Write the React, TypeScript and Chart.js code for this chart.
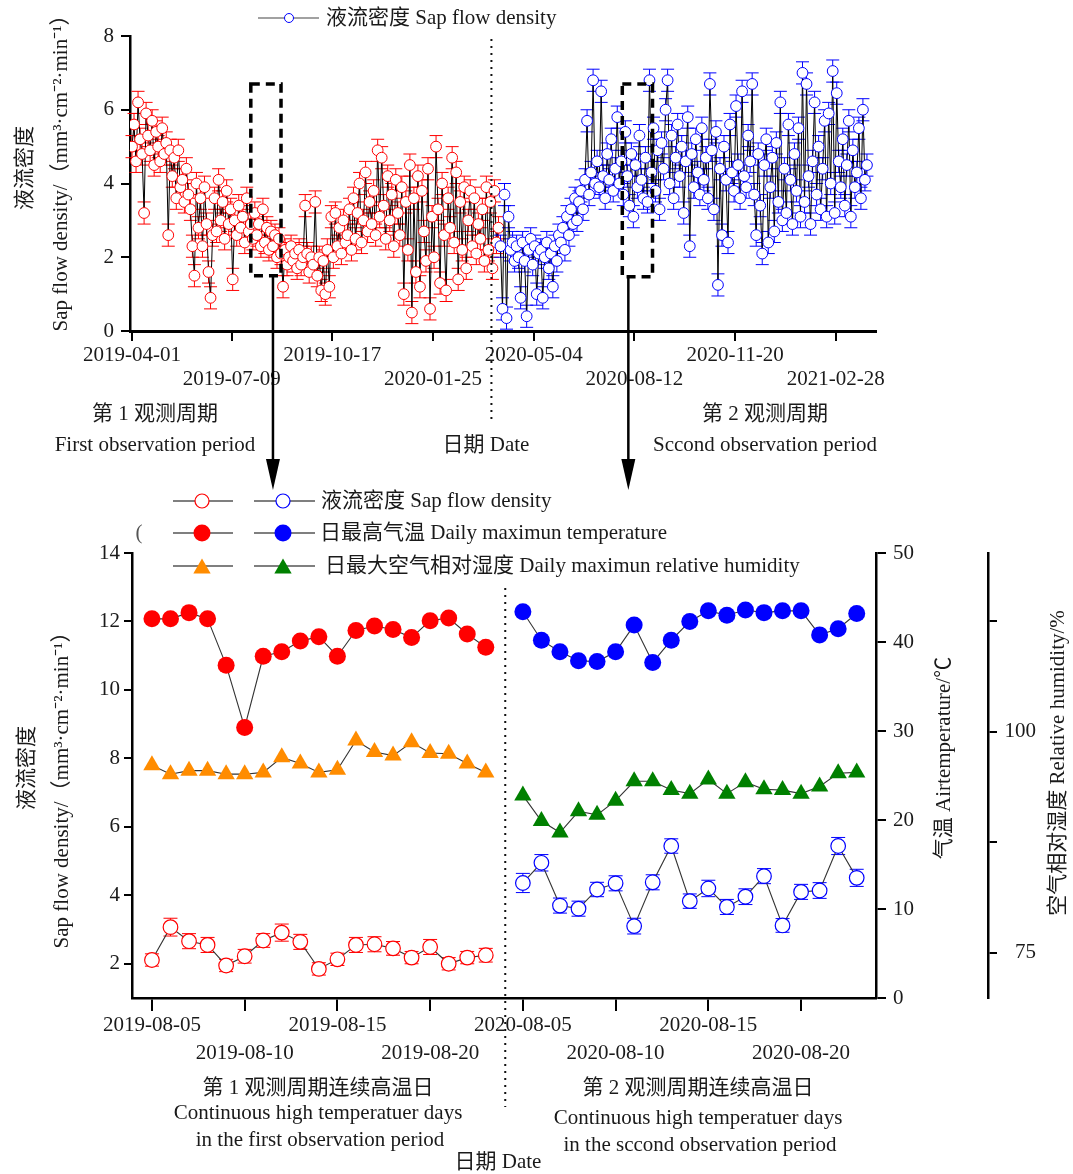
import React, { useEffect, useRef } from 'react';
import { Chart, registerables } from 'chart.js';

Chart.register(...registerables);

const W = 1073;
const H = 1174;
const FONT = '"Liberation Serif", "Times New Roman", "Noto Sans CJK SC", serif';
const INK = '#1a1a1a';
const RED = '#ff0000';
const BLUE = '#0000ff';
const ORANGE = '#ff8c00';
const GREEN = '#008000';

// ---------------- Top chart data (day 0 = 2019-04-01) ----------------
const topTickDays = [0, 99, 199, 299, 399, 499, 599, 699];
const topTickLabels = ['2019-04-01', '2019-07-09', '2019-10-17', '2020-01-25', '2020-05-04', '2020-08-12', '2020-11-20', '2021-02-28'];
const sampleStepDays = 2;
const period1StartDay = 0;
const period2StartDay = 366;
const periodDividerDay = 357;

const period1Sap = [
  5.0, 5.6, 4.6, 6.2, 5.2, 4.8, 3.2, 5.9, 5.3, 4.9,
  5.7, 4.5, 5.4, 5.0, 4.6, 5.5, 4.8, 5.1, 2.6, 4.9,
  4.2, 4.7, 3.6, 4.9, 3.9, 4.1, 3.5, 4.4, 3.7, 3.3,
  2.3, 1.5, 4.0, 2.8, 3.6, 2.3, 3.9, 2.9, 1.6, 0.9,
  2.6, 3.6, 2.7, 4.1, 3.0, 3.5, 2.5, 3.8, 2.9, 3.3,
  1.4, 3.0, 2.6, 3.4, 2.8, 3.1, 2.4, 3.6, 2.7, 2.9,
  2.5, 3.2, 2.6, 2.9, 2.3, 3.3, 2.4, 2.8, 2.2, 2.7,
  2.3, 2.6, 2.0, 2.5, 2.1, 1.2, 2.2, 1.8, 2.0, 2.3,
  1.9, 2.1, 1.7, 2.2, 1.8, 2.0, 3.4, 2.1, 1.6, 2.0,
  1.8, 3.5, 1.5, 2.0, 1.1, 1.9, 1.0, 2.2, 1.2, 3.1,
  2.0, 3.2, 2.3, 2.8, 2.1, 3.0, 2.4, 2.6, 3.3, 2.2,
  3.6, 2.5, 3.2, 4.0, 2.4, 3.0, 4.3, 2.7, 3.5, 2.9,
  3.8, 2.6, 4.9, 3.1, 4.7, 3.4, 2.5, 4.2, 3.0, 3.7,
  2.3, 4.1, 3.2, 2.6, 3.9, 1.0, 3.5, 2.2, 4.5, 0.5,
  3.6, 1.6, 4.2, 1.2, 3.8, 2.7, 1.9, 4.4, 0.6, 3.1,
  2.0, 5.0, 3.3, 1.3, 4.0, 2.6, 1.1, 3.6, 2.8, 4.7,
  2.4, 4.3, 1.4, 3.5, 2.2, 3.9, 1.7, 3.0, 3.8, 2.3,
  3.6, 2.1, 2.9, 2.5, 3.3, 1.9, 3.9, 2.2, 3.5, 1.7,
  3.8, 2.4, 2.8,
];

const period2Sap = [
  2.3, 0.6, 3.7, 0.35, 3.1, 2.2, 2.4, 1.9, 2.3, 2.0,
  0.9, 2.4, 1.9, 0.4, 2.2, 2.5, 1.8, 2.3, 1.0, 2.1,
  2.2, 0.9, 2.0, 2.4, 1.7, 2.1, 1.2, 2.3, 1.9, 2.6,
  2.4, 2.8, 2.2, 3.1, 2.6, 3.3, 2.9, 3.6, 3.0, 3.5,
  3.8, 3.3, 4.1, 5.7, 3.7, 4.3, 6.8, 4.0, 4.6, 3.9,
  6.5, 4.2, 3.6, 4.8, 4.1, 5.2, 3.8, 4.4, 5.8, 4.0,
  4.6, 3.7, 5.4, 4.2, 3.4, 4.8, 3.1, 4.5, 3.9, 5.3,
  4.1, 3.6, 4.7, 3.5, 6.8, 4.3, 5.5, 3.8, 4.9, 3.3,
  5.1, 4.4, 6.0, 6.8, 4.0, 5.3, 3.6, 4.7, 5.6, 4.2,
  5.0, 3.2, 4.6, 5.8, 2.3, 4.8, 3.9, 5.2, 4.3, 3.7,
  5.5, 4.1, 4.7, 3.6, 6.7, 4.9, 3.3, 5.4, 1.25, 4.4,
  2.6, 5.0, 4.1, 2.4, 5.6, 4.3, 3.8, 6.1, 4.5, 3.6,
  6.5, 4.2, 3.9, 5.3, 4.6, 6.7, 3.7, 2.6, 4.8, 3.4,
  2.1, 4.5, 5.2, 2.4, 3.9, 4.7, 2.7, 5.1, 3.5, 6.2,
  3.0, 4.4, 3.2, 5.6, 4.1, 2.9, 4.8, 3.8, 5.5, 3.1,
  7.0, 3.5, 6.7, 4.2, 2.9, 4.6, 6.2, 3.7, 5.0, 3.3,
  4.4, 5.7, 3.1, 5.9, 4.0, 7.05, 3.2, 6.45, 4.6, 3.9,
  5.2, 3.4, 4.5, 5.7, 3.1, 4.9, 3.9, 4.3, 5.5, 3.6,
  6.0, 4.1, 4.5,
];

const topSapErr = 0.3;

// dashed boxes marking the continuous high-temperature days (days, sap-flow units)
const highTempBoxes = [
  { fromDay: 118, toDay: 148, top: 6.7, bottom: 1.5, arrowDay: 140 },
  { fromDay: 487, toDay: 517, top: 6.7, bottom: 1.47, arrowDay: 493 },
];

// ---------------- Bottom chart data ----------------
const bottomTickPos = [0, 5, 10, 15, 20, 25, 30, 35];
const bottomTickLabels = ['2019-08-05', '2019-08-10', '2019-08-15', '2019-08-20', '2020-08-05', '2020-08-10', '2020-08-15', '2020-08-20'];
const hotDays1Start = 0; // 2019-08-05
const hotDays2Start = 20; // 2020-08-05
const bottomDividerPos = 19.05;

const sap1 = [2.11, 3.07, 2.66, 2.55, 1.95, 2.22, 2.68, 2.91, 2.64, 1.85, 2.13, 2.55, 2.57, 2.45, 2.18, 2.49, 2.00, 2.18, 2.25];
const sap1Err = [0.18, 0.26, 0.22, 0.22, 0.18, 0.2, 0.2, 0.25, 0.22, 0.18, 0.18, 0.22, 0.22, 0.2, 0.18, 0.22, 0.18, 0.18, 0.2];
const temp1 = [42.6, 42.6, 43.3, 42.6, 37.4, 30.4, 38.4, 38.9, 40.1, 40.6, 38.4, 41.3, 41.8, 41.4, 40.5, 42.4, 42.7, 40.9, 39.4];
const rh1 = [96.2, 95.2, 95.6, 95.6, 95.2, 95.2, 95.4, 97.1, 96.4, 95.4, 95.7, 99.0, 97.7, 97.3, 98.8, 97.6, 97.5, 96.4, 95.4];

const sap2 = [4.36, 4.95, 3.70, 3.61, 4.17, 4.35, 3.10, 4.38, 5.44, 3.83, 4.20, 3.66, 3.96, 4.56, 3.12, 4.10, 4.14, 5.44, 4.51];
const sap2Err = [0.28, 0.24, 0.22, 0.22, 0.21, 0.22, 0.23, 0.22, 0.21, 0.21, 0.24, 0.22, 0.23, 0.22, 0.2, 0.22, 0.23, 0.25, 0.25];
const temp2 = [43.4, 40.2, 38.9, 37.9, 37.8, 38.9, 41.9, 37.7, 40.2, 42.3, 43.5, 43.0, 43.6, 43.3, 43.5, 43.5, 40.8, 41.5, 43.2];
const rh2 = [92.8, 89.9, 88.6, 91.0, 90.6, 92.2, 94.4, 94.4, 93.4, 93.0, 94.6, 93.0, 94.3, 93.5, 93.4, 93.0, 93.8, 95.3, 95.4];

const rhTicks = [75, 87.5, 100, 112.5];
const rhLabelled = [75, 100];

// ---------------- helpers ----------------
function drawText(ctx: any, s: string, x: number, y: number, size = 21, align = 'center', rotate = 0, color = INK) {
  ctx.save();
  ctx.font = `${size}px ${FONT}`;
  ctx.fillStyle = color;
  ctx.textAlign = align;
  ctx.textBaseline = 'middle';
  ctx.translate(x, y);
  if (rotate) ctx.rotate(rotate);
  ctx.fillText(s, 0, 0);
  ctx.restore();
}

function dottedV(ctx: any, x: number, y1: number, y2: number) {
  ctx.save();
  ctx.strokeStyle = '#111';
  ctx.lineWidth = 2;
  ctx.setLineDash([2, 5]);
  ctx.beginPath();
  ctx.moveTo(x, y1);
  ctx.lineTo(x, y2);
  ctx.stroke();
  ctx.restore();
}

function triangle(ctx: any, x: number, y: number, r: number) {
  const s = Math.sin((2 * Math.PI) / 3) * r;
  ctx.beginPath();
  ctx.moveTo(x, y - r);
  ctx.lineTo(x + s, y + r / 2);
  ctx.lineTo(x - s, y + r / 2);
  ctx.closePath();
}

const errorBarPlugin = {
  id: 'errorBars',
  beforeDatasetDraw(chart: any, args: any) {
    const ds = chart.data.datasets[args.index];
    if (ds.errors === undefined) return;
    const meta = args.meta;
    const ys = chart.scales[meta.yAxisID];
    const ctx = chart.ctx;
    ctx.save();
    ctx.strokeStyle = ds.errColor;
    ctx.lineWidth = 1;
    meta.data.forEach((pt: any, i: number) => {
      const v = ds.data[i].y;
      const e = Array.isArray(ds.errors) ? ds.errors[i] : ds.errors;
      const x = pt.x;
      const yTop = ys.getPixelForValue(v + e);
      const yBot = ys.getPixelForValue(v - e);
      const c = ds.capHalf;
      ctx.beginPath();
      ctx.moveTo(x, yTop);
      ctx.lineTo(x, yBot);
      ctx.moveTo(x - c, yTop);
      ctx.lineTo(x + c, yTop);
      ctx.moveTo(x - c, yBot);
      ctx.lineTo(x + c, yBot);
      ctx.stroke();
    });
    ctx.restore();
  },
};

const topDecor = {
  id: 'topDecor',
  afterDraw(chart: any) {
    const ctx = chart.ctx;
    const xs = chart.scales.x;
    const ys = chart.scales.y;
    // legend
    ctx.save();
    ctx.strokeStyle = '#444';
    ctx.lineWidth = 1.2;
    ctx.beginPath();
    ctx.moveTo(258, 18);
    ctx.lineTo(319, 18);
    ctx.stroke();
    ctx.fillStyle = '#fff';
    ctx.strokeStyle = BLUE;
    ctx.lineWidth = 1;
    ctx.beginPath();
    ctx.arc(289, 18, 4.5, 0, Math.PI * 2);
    ctx.fill();
    ctx.stroke();
    ctx.restore();
    drawText(ctx, '液流密度 Sap flow density', 326, 18, 21, 'left');
    // y titles
    drawText(ctx, '液流密度', 25, 168, 21, 'center', -Math.PI / 2);
    drawText(ctx, 'Sap flow density/（mm³·cm⁻²·min⁻¹）', 61, 168, 21, 'center', -Math.PI / 2);
    // divider
    dottedV(ctx, xs.getPixelForValue(periodDividerDay), ys.getPixelForValue(8) + 3, 420);
    // captions
    drawText(ctx, '第 1 观测周期', 155, 414);
    drawText(ctx, 'First observation period', 155, 445);
    drawText(ctx, '日期 Date', 486, 445);
    drawText(ctx, '第 2 观测周期', 765, 414);
    drawText(ctx, 'Sccond observation period', 765, 445);
    // boxes + arrows
    highTempBoxes.forEach((b) => {
      const x1 = xs.getPixelForValue(b.fromDay);
      const x2 = xs.getPixelForValue(b.toDay);
      const yT = ys.getPixelForValue(b.top);
      const yB = ys.getPixelForValue(b.bottom);
      const ax = xs.getPixelForValue(b.arrowDay);
      ctx.save();
      ctx.strokeStyle = '#000';
      ctx.lineWidth = 3.5;
      ctx.setLineDash([9, 6]);
      ctx.strokeRect(x1, yT, x2 - x1, yB - yT);
      ctx.setLineDash([]);
      ctx.lineWidth = 2.5;
      ctx.beginPath();
      ctx.moveTo(ax, yB);
      ctx.lineTo(ax, 462);
      ctx.stroke();
      ctx.fillStyle = '#000';
      ctx.beginPath();
      ctx.moveTo(ax - 7, 459);
      ctx.lineTo(ax + 7, 459);
      ctx.lineTo(ax, 490);
      ctx.closePath();
      ctx.fill();
      ctx.restore();
    });
  },
};

const bottomDecor = {
  id: 'bottomDecor',
  afterDraw(chart: any) {
    const ctx = chart.ctx;
    const xs = chart.scales.x;
    // legend
    const rows = [
      { y: 501, kind: 'open', text: '液流密度 Sap flow density', tx: 321 },
      { y: 533, kind: 'filled', text: '日最高气温 Daily maximun temperature', tx: 320 },
      { y: 566, kind: 'tri', text: '日最大空气相对湿度 Daily maximun relative humidity', tx: 325 },
    ];
    rows.forEach((r) => {
      ctx.save();
      ctx.strokeStyle = '#555';
      ctx.lineWidth = 1.4;
      ctx.beginPath();
      ctx.moveTo(173, r.y);
      ctx.lineTo(233, r.y);
      ctx.moveTo(254, r.y);
      ctx.lineTo(315, r.y);
      ctx.stroke();
      const cols = r.kind === 'tri' ? [ORANGE, GREEN] : [RED, BLUE];
      [202, 283].forEach((cx, k) => {
        if (r.kind === 'open') {
          ctx.fillStyle = '#fff';
          ctx.strokeStyle = cols[k];
          ctx.lineWidth = 1.2;
          ctx.beginPath();
          ctx.arc(cx, r.y, 7, 0, Math.PI * 2);
          ctx.fill();
          ctx.stroke();
        } else if (r.kind === 'filled') {
          ctx.fillStyle = cols[k];
          ctx.beginPath();
          ctx.arc(cx, r.y, 8.5, 0, Math.PI * 2);
          ctx.fill();
        } else {
          ctx.fillStyle = cols[k];
          triangle(ctx, cx, r.y + 2.5, 10);
          ctx.fill();
        }
      });
      ctx.restore();
      drawText(ctx, r.text, r.tx, r.y, 21, 'left');
    });
    drawText(ctx, '(', 139, 533, 21, 'center', 0, '#555');
    // axis titles
    drawText(ctx, '液流密度', 27, 768, 21, 'center', -Math.PI / 2);
    drawText(ctx, 'Sap flow density/（mm³·cm⁻²·min⁻¹）', 62, 785, 21, 'center', -Math.PI / 2);
    drawText(ctx, '气温 Airtemperature/℃', 944, 758, 21, 'center', -Math.PI / 2);
    drawText(ctx, '空气相对湿度 Relative humidity/%', 1058, 763, 21, 'center', -Math.PI / 2);
    // divider
    dottedV(ctx, xs.getPixelForValue(bottomDividerPos), 588, 1107);
    // captions
    drawText(ctx, '第 1 观测周期连续高温日', 318, 1088);
    drawText(ctx, 'Continuous high temperatuer days', 318, 1113);
    drawText(ctx, 'in the first observation period', 320, 1140);
    drawText(ctx, '第 2 观测周期连续高温日', 698, 1088);
    drawText(ctx, 'Continuous high temperatuer days', 698, 1118);
    drawText(ctx, 'in the sccond observation period', 700, 1145);
    drawText(ctx, '日期 Date', 498, 1162);
  },
};

const axisGrid = (len: number) => ({
  display: true,
  drawOnChartArea: false,
  drawTicks: true,
  tickLength: len,
  color: '#000',
  lineWidth: 2,
});
const tickFont = { family: FONT, size: 21 };

function topConfig(): any {
  const mk = (vals: number[], start: number) => vals.map((v, i) => ({ x: start + i * sampleStepDays, y: v }));
  const common = {
    borderColor: '#000',
    borderWidth: 1,
    pointStyle: 'circle',
    pointRadius: 5.4,
    pointBackgroundColor: '#fff',
    pointBorderWidth: 1,
    tension: 0,
    fill: false,
    errors: topSapErr,
    capHalf: 6.5,
  };
  return {
    type: 'line',
    data: {
      datasets: [
        { ...common, data: mk(period2Sap, period2StartDay), pointBorderColor: BLUE, errColor: BLUE },
        { ...common, data: mk(period1Sap, period1StartDay), pointBorderColor: RED, errColor: RED },
      ],
    },
    options: {
      responsive: false,
      animation: false,
      devicePixelRatio: 1,
      events: [],
      layout: { padding: { left: 70, right: 197, top: 36, bottom: H - 331 - 60 } },
      plugins: { legend: { display: false }, tooltip: { enabled: false } },
      scales: {
        x: {
          type: 'linear',
          min: -2,
          max: 739,
          afterFit: (s: any) => { s.height = 60; },
          afterBuildTicks: (s: any) => { s.ticks = topTickDays.map((v) => ({ value: v })); },
          ticks: {
            autoSkip: false,
            maxRotation: 0,
            minRotation: 0,
            padding: 2,
            color: INK,
            font: { ...tickFont, lineHeight: 1.15 },
            callback: (value: any) => {
              const i = topTickDays.indexOf(Number(value));
              if (i < 0) return '';
              return i % 2 === 0 ? topTickLabels[i] : ['', topTickLabels[i]];
            },
          },
          grid: axisGrid(10),
          border: { display: true, color: '#000', width: 3 },
        },
        y: {
          min: 0,
          max: 8,
          afterFit: (s: any) => { s.width = 60; },
          ticks: { stepSize: 2, padding: 7, color: INK, font: tickFont },
          grid: axisGrid(9),
          border: { display: true, color: '#000', width: 2.5 },
        },
      },
    },
    plugins: [errorBarPlugin, topDecor],
  };
}

function bottomConfig(): any {
  const mk = (vals: number[], start: number) => vals.map((v, i) => ({ x: start + i, y: v }));
  const line = { borderColor: '#333', borderWidth: 1.1, tension: 0, fill: false };
  const sapStyle = (col: string, errs: number[]) => ({
    ...line,
    yAxisID: 'y',
    pointStyle: 'circle',
    pointRadius: 7.3,
    pointBorderColor: col,
    pointBackgroundColor: '#fff',
    pointBorderWidth: 1.2,
    errors: errs,
    errColor: col,
    capHalf: 7,
  });
  const tempStyle = (col: string) => ({
    ...line,
    yAxisID: 'yT',
    pointStyle: 'circle',
    pointRadius: 8.5,
    pointBorderColor: col,
    pointBackgroundColor: col,
    pointBorderWidth: 0,
  });
  const rhStyle = (col: string) => ({
    ...line,
    yAxisID: 'yH',
    pointStyle: 'triangle',
    pointRadius: 10,
    pointBorderColor: col,
    pointBackgroundColor: col,
    pointBorderWidth: 0,
  });
  return {
    type: 'line',
    data: {
      datasets: [
        { ...tempStyle(RED), data: mk(temp1, hotDays1Start) },
        { ...tempStyle(BLUE), data: mk(temp2, hotDays2Start) },
        { ...rhStyle(ORANGE), data: mk(rh1, hotDays1Start) },
        { ...rhStyle(GREEN), data: mk(rh2, hotDays2Start) },
        { ...sapStyle(RED, sap1Err), data: mk(sap1, hotDays1Start) },
        { ...sapStyle(BLUE, sap2Err), data: mk(sap2, hotDays2Start) },
      ],
    },
    options: {
      responsive: false,
      animation: false,
      devicePixelRatio: 1,
      events: [],
      layout: { padding: { left: 62, right: 37, top: 553, bottom: H - 998 - 80 } },
      plugins: { legend: { display: false }, tooltip: { enabled: false } },
      scales: {
        x: {
          type: 'linear',
          min: -1.075,
          max: 39.04,
          afterFit: (s: any) => { s.height = 80; },
          afterBuildTicks: (s: any) => { s.ticks = bottomTickPos.map((v) => ({ value: v })); },
          ticks: {
            autoSkip: false,
            maxRotation: 0,
            minRotation: 0,
            padding: 0,
            color: INK,
            font: { ...tickFont, lineHeight: 1.35 },
            callback: (value: any) => {
              const i = bottomTickPos.indexOf(Number(value));
              if (i < 0) return '';
              return i % 2 === 0 ? bottomTickLabels[i] : ['', bottomTickLabels[i]];
            },
          },
          grid: axisGrid(13),
          border: { display: true, color: '#000', width: 2.5 },
        },
        y: {
          position: 'left',
          min: 1,
          max: 14,
          afterFit: (s: any) => { s.width = 70; },
          afterBuildTicks: (s: any) => { s.ticks = [2, 4, 6, 8, 10, 12, 14].map((v) => ({ value: v })); },
          ticks: { padding: 4, color: INK, font: tickFont },
          grid: axisGrid(8),
          border: { display: true, color: '#000', width: 2.5 },
        },
        yT: {
          position: 'right',
          weight: 1,
          min: 0,
          max: 50,
          afterFit: (s: any) => { s.width = 112; },
          ticks: { stepSize: 10, padding: 7, color: INK, font: tickFont },
          grid: axisGrid(10),
          border: { display: true, color: '#000', width: 2.5 },
        },
        yH: {
          position: 'right',
          weight: 2,
          min: 69.9,
          max: 120.2,
          afterFit: (s: any) => { s.width = 48; },
          afterBuildTicks: (s: any) => { s.ticks = rhTicks.map((v) => ({ value: v })); },
          ticks: {
            padding: 4,
            crossAlign: 'far',
            color: INK,
            font: tickFont,
            callback: (value: any) => (rhLabelled.includes(Number(value)) ? String(value) : ''),
          },
          grid: axisGrid(9),
          border: { display: true, color: '#000', width: 2.5 },
        },
      },
    },
    plugins: [errorBarPlugin, bottomDecor],
  };
}

export default function App() {
  const topRef = useRef<HTMLCanvasElement>(null);
  const botRef = useRef<HTMLCanvasElement>(null);
  useEffect(() => {
    const c2 = new Chart(botRef.current as any, bottomConfig());
    const c1 = new Chart(topRef.current as any, topConfig());
    return () => {
      c1.destroy();
      c2.destroy();
    };
  }, []);
  const cs: any = { position: 'absolute', left: 0, top: 0, width: W, height: H };
  return (
    <div style={{ position: 'absolute', left: 0, top: 0, width: W, height: H, background: '#fff', overflow: 'hidden' }}>
      <canvas ref={botRef} width={W} height={H} style={cs} />
      <canvas ref={topRef} width={W} height={H} style={cs} />
    </div>
  );
}
